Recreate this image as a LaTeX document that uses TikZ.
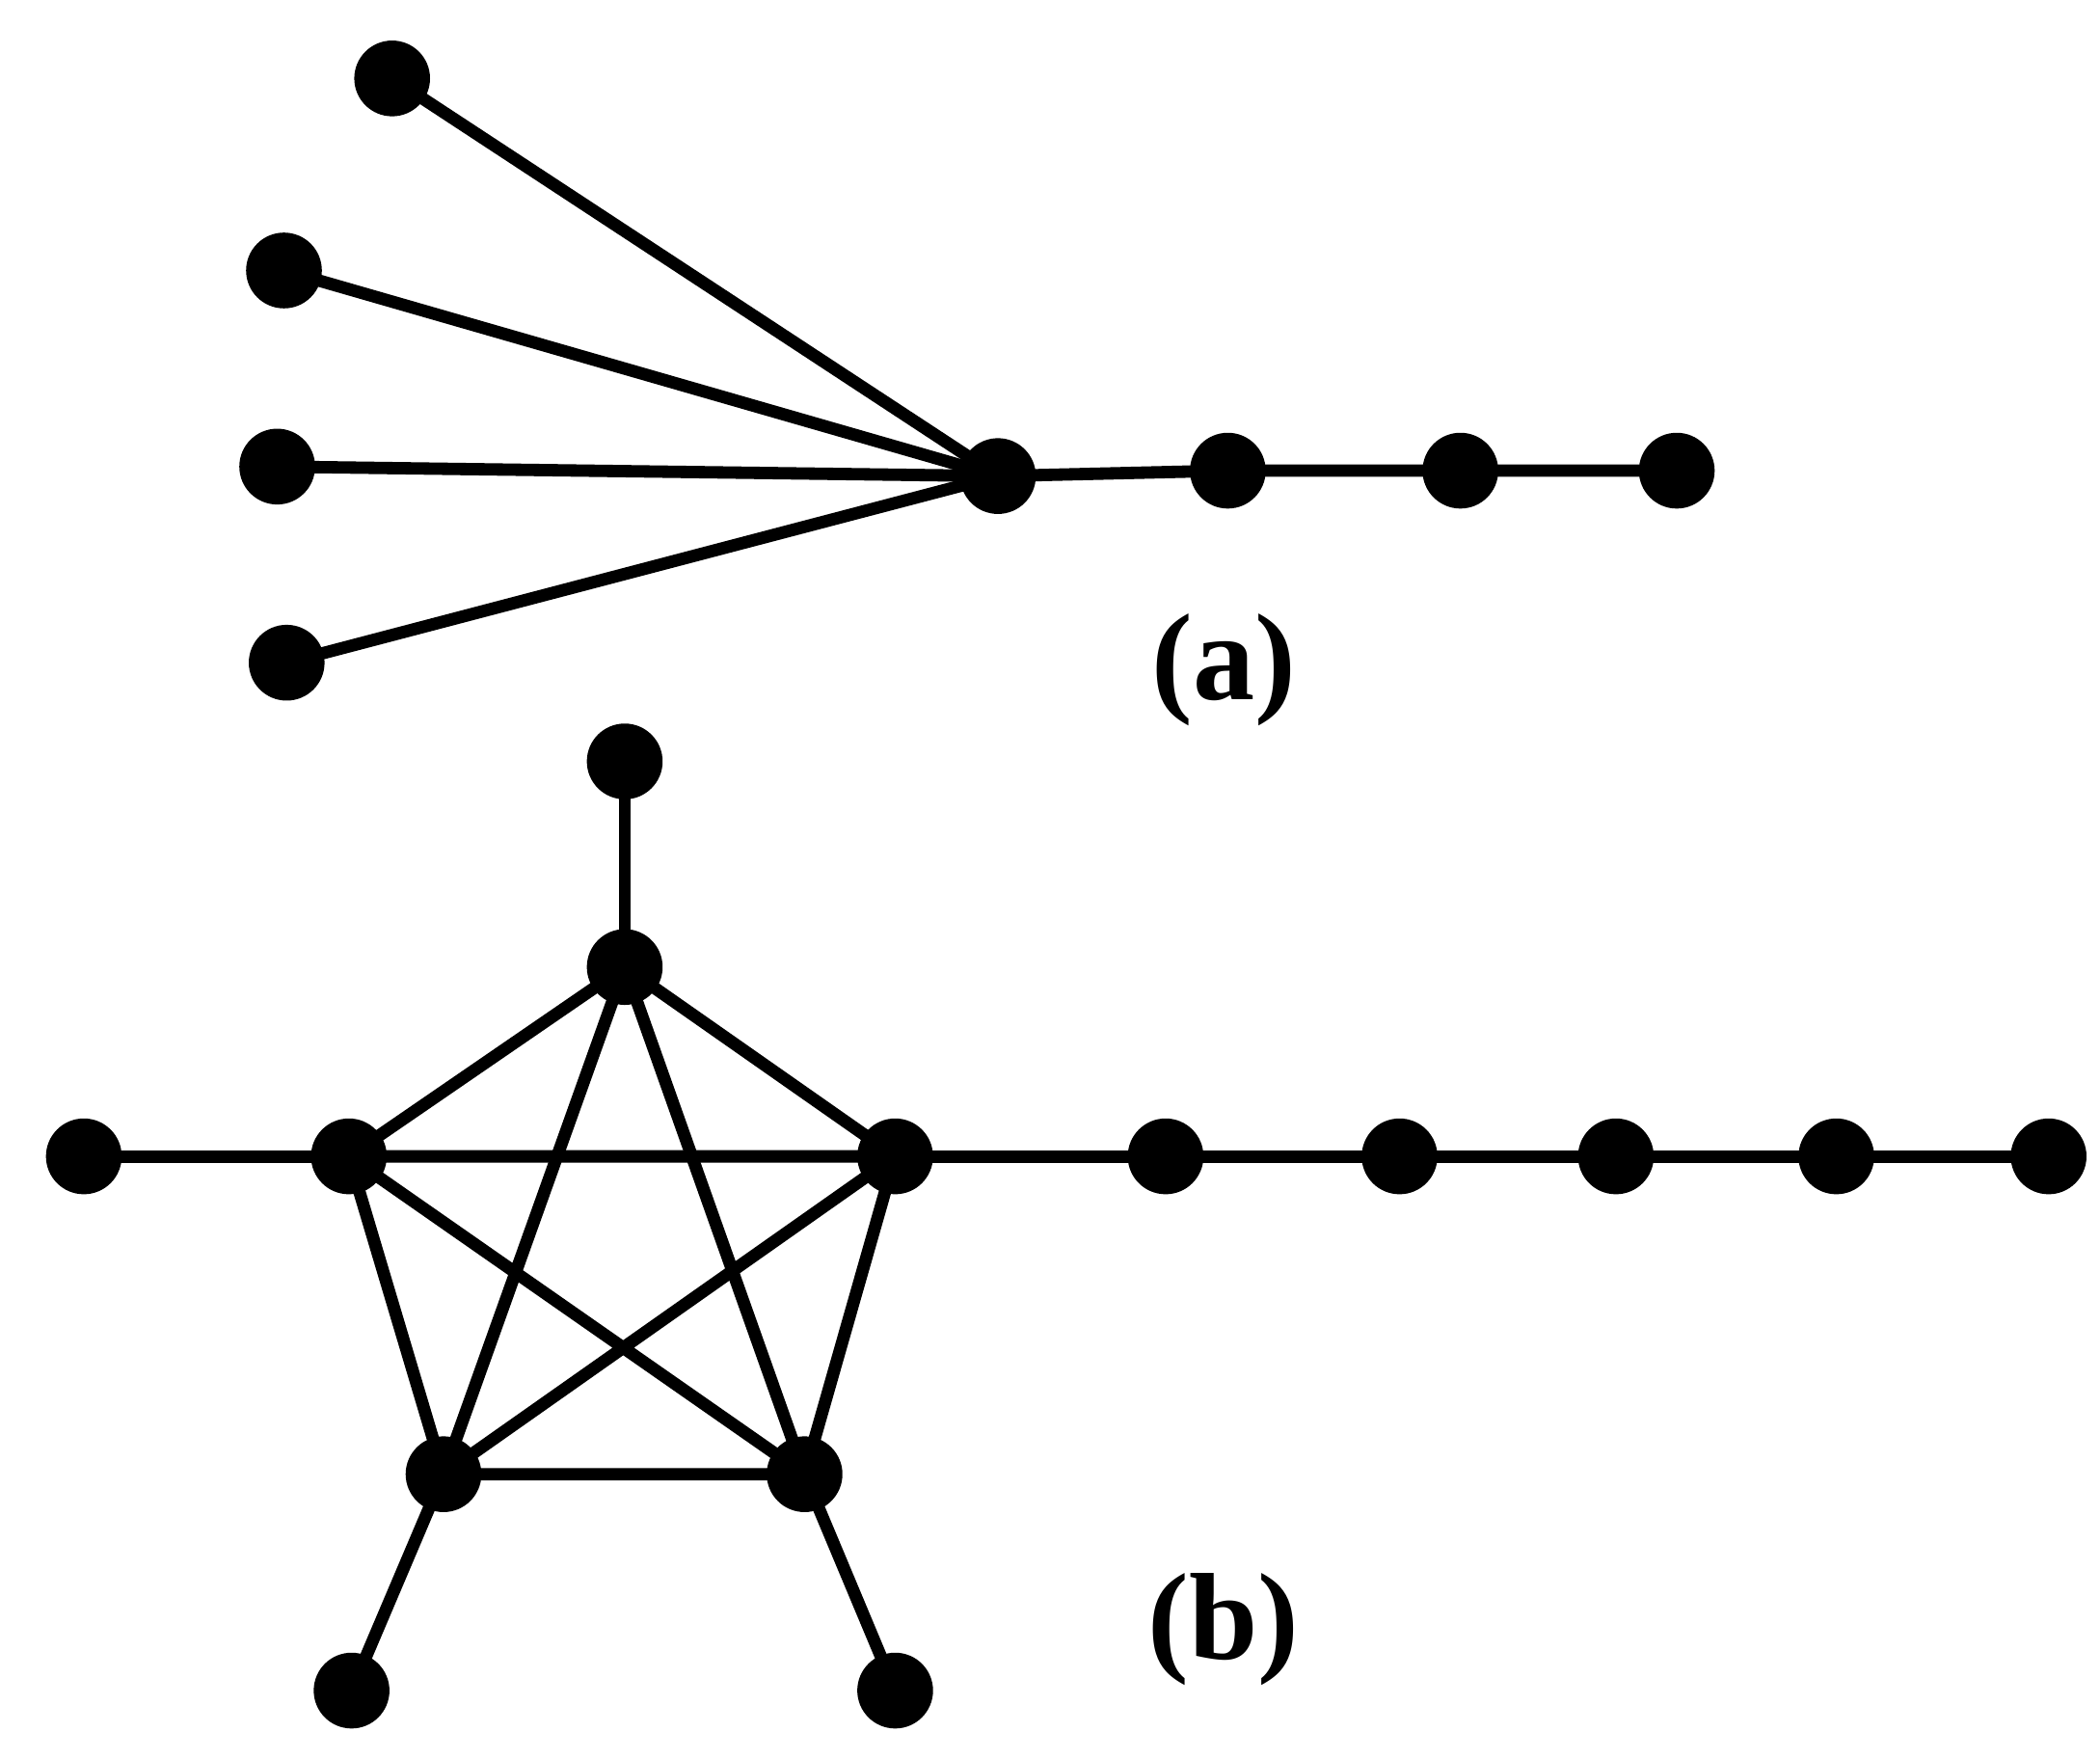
\documentclass[tikz,border=0pt]{standalone}
\usepackage{fontspec}
\setmainfont{Liberation Serif}
\begin{document}
\begin{tikzpicture}[x=0.01cm,y=-0.01cm,
  v/.style={circle,fill=black,inner sep=0pt,outer sep=0pt,minimum size=0.56cm},
  e/.style={line width=2.6pt},
  lab/.style={font=\fontsize{26}{28}\selectfont\bfseries}]
\useasboundingbox (0,0) rectangle (1553,1300);
% (a)
\node[v] (a1) at (290,58) {};
\node[v] (a2) at (210,200) {};
\node[v] (a3) at (205,345) {};
\node[v] (a4) at (212,490) {};
\node[v] (h) at (738,352) {};
\node[v] (p1) at (908,348) {};
\node[v] (p2) at (1080,348) {};
\node[v] (p3) at (1240,348) {};
\foreach \x in {a1,a2,a3,a4} \draw[e] (\x.center) -- (h.center);
\draw[e] (h.center) -- (p1.center) -- (p2.center) -- (p3.center);
\node[lab] (la) at (905,495) {(a)};
% (b)
\node[v] (top) at (462,563) {};
\node[v] (t) at (462,715) {};
\node[v] (L) at (258,855) {};
\node[v] (R) at (662,855) {};
\node[v] (BL) at (328,1090) {};
\node[v] (BR) at (595,1090) {};
\node[v] (fl) at (62,855) {};
\node[v] (c1) at (862,855) {};
\node[v] (c2) at (1035,855) {};
\node[v] (c3) at (1195,855) {};
\node[v] (c4) at (1358,855) {};
\node[v] (c5) at (1515,855) {};
\node[v] (lbl) at (260,1250) {};
\node[v] (lbr) at (662,1250) {};
\draw[e] (top.center) -- (t.center);
\draw[e] (t.center) -- (L.center) (t.center) -- (R.center) (L.center) -- (R.center)
  (L.center) -- (BL.center) (R.center) -- (BR.center) (BL.center) -- (BR.center);
\draw[e] (t.center) -- (BL.center) (t.center) -- (BR.center) (L.center) -- (BR.center) (R.center) -- (BL.center);
\draw[e] (fl.center) -- (L.center);
\draw[e] (R.center) -- (c1.center) -- (c2.center) -- (c3.center) -- (c4.center) -- (c5.center);
\draw[e] (BL.center) -- (lbl.center) (BR.center) -- (lbr.center);
\node[lab] (lb) at (905,1205) {(b)};
\end{tikzpicture}
\end{document}
